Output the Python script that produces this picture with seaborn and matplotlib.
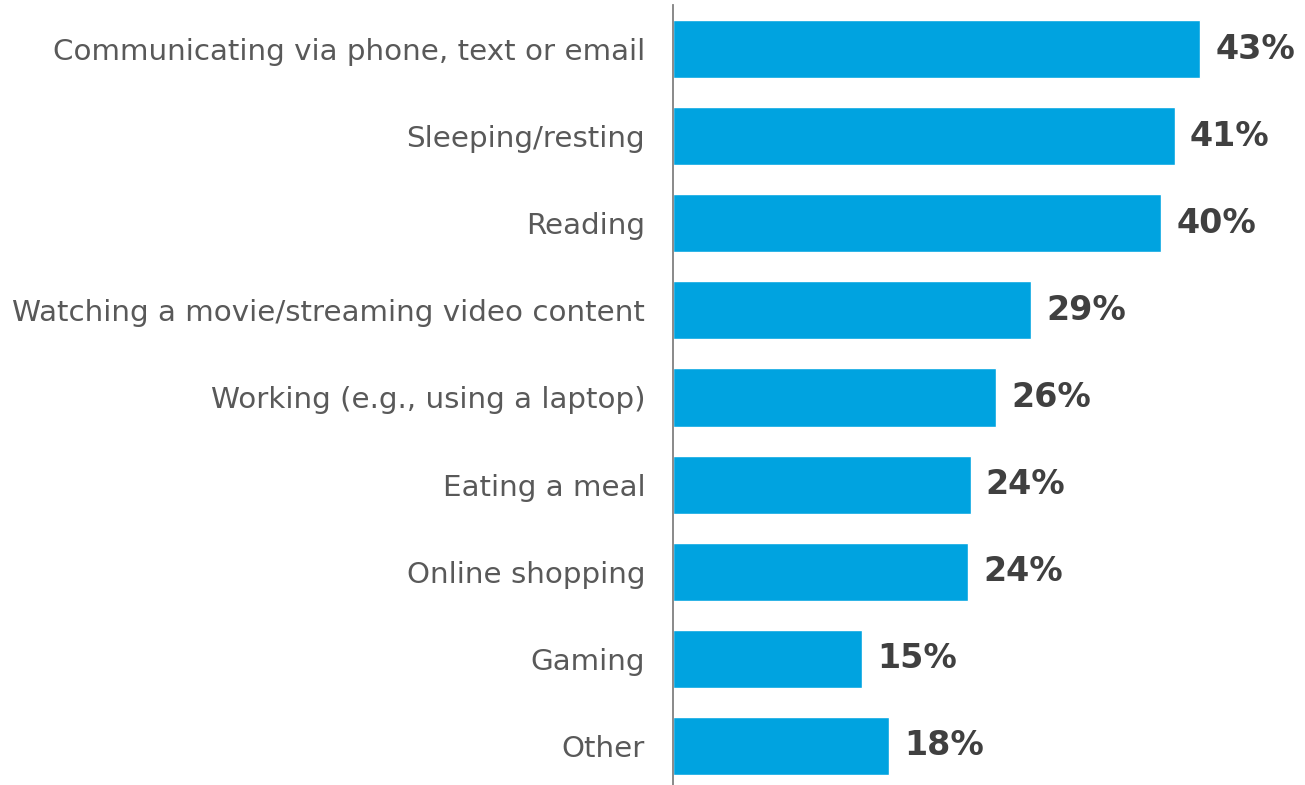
import matplotlib
matplotlib.use("Agg")
import matplotlib.pyplot as plt
import pandas as pd
import seaborn as sns

# Data
activities = [
    "Communicating via phone, text or email",
    "Sleeping/resting",
    "Reading",
    "Watching a movie/streaming video content",
    "Working (e.g., using a laptop)",
    "Eating a meal",
    "Online shopping",
    "Gaming",
    "Other",
]
shares = [42.9, 40.8, 39.7, 29.1, 26.3, 24.2, 24.0, 15.4, 17.6]
share_labels = ["43%", "41%", "40%", "29%", "26%", "24%", "24%", "15%", "18%"]

df = pd.DataFrame({"activity": activities, "share": shares})

sns.set_style("white")
plt.rcParams["font.family"] = ["DejaVu Sans"]

fig = plt.figure(figsize=(13.05, 7.85), dpi=100)
ax = fig.add_axes([0.5157, 0.0, 0.4843, 0.9936])

sns.barplot(data=df, x="share", y="activity", ax=ax,
            color="#00A3E0", saturation=1, width=0.666, orient="h")

ax.set_xlim(0, 51.4)
ax.set_ylim(8.448, -0.505)

for i, (val, lab) in enumerate(zip(shares, share_labels)):
    ax.annotate(lab, xy=(val, i), xytext=(11, 0), textcoords="offset points",
                va="center", ha="left", fontsize=24, fontweight="bold",
                color="#404040")

ax.set_xlabel("")
ax.set_ylabel("")
ax.set_xticks([])
ax.tick_params(axis="y", length=0, pad=20, labelsize=21.2, labelcolor="#595959")

for side in ["top", "right", "bottom"]:
    ax.spines[side].set_visible(False)
ax.spines["left"].set_color("#808080")
ax.spines["left"].set_linewidth(1.3)

fig.savefig("out.png", dpi=100)
